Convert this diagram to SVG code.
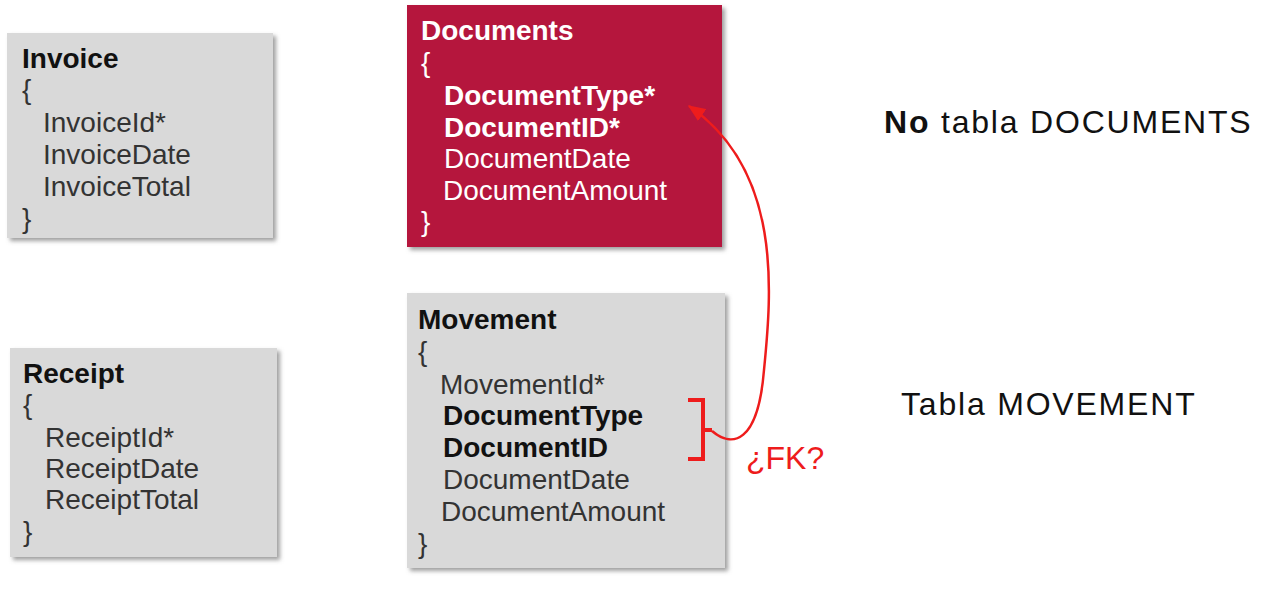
<svg xmlns="http://www.w3.org/2000/svg" width="1275" height="606" viewBox="0 0 1275 606">
<style>
  .box { fill: #d9d9d9; filter: url(#sh); }
  .red { fill: #b5193d; filter: url(#sh); }
  text { font-family: "Liberation Sans", Arial, sans-serif; font-size: 28px; }
  .t { font-weight: bold; fill: #111; }
  .f { fill: #333; }
  .b { font-weight: bold; fill: #111; }
  .w { fill: #ffffff; }
  .wb { fill: #ffffff; font-weight: bold; }
  .big { font-size: 32px; fill: #111; letter-spacing: 1.8px; }
  .fk { font-size: 32px; fill: #ee1c1c; }
  .conn { fill: none; stroke: #ee1c1c; stroke-width: 2.5; }
  .brk { fill: none; stroke: #ee1c1c; stroke-width: 4; stroke-linejoin: miter; }
</style>
<defs>
  <filter id="sh" x="-5%" y="-5%" width="115%" height="115%">
    <feDropShadow dx="3" dy="3" stdDeviation="2" flood-color="#777" flood-opacity="0.7"/>
  </filter>
  <marker id="ah" viewBox="0 0 12 10" refX="11" refY="5" markerWidth="7" markerHeight="6" orient="auto" markerUnits="strokeWidth">
    <path d="M0,0 L12,5 L0,10 Z" fill="#ee1c1c"/>
  </marker>
</defs>
<rect width="1275" height="606" fill="#ffffff"/>

<g id="invoice">
  <rect class="box" x="7" y="33" width="266" height="205"/>
  <text class="t" x="22" y="68">Invoice</text>
  <text class="f" x="22" y="99">{</text>
  <text class="f" x="43" y="132">InvoiceId*</text>
  <text class="f" x="43" y="164">InvoiceDate</text>
  <text class="f" x="43" y="196">InvoiceTotal</text>
  <text class="f" x="22" y="228">}</text>
</g>

<g id="receipt">
  <rect class="box" x="10" y="348" width="267" height="209"/>
  <text class="t" x="23" y="383">Receipt</text>
  <text class="f" x="23" y="414">{</text>
  <text class="f" x="45" y="447">ReceiptId*</text>
  <text class="f" x="45" y="478">ReceiptDate</text>
  <text class="f" x="45" y="509">ReceiptTotal</text>
  <text class="f" x="23" y="541">}</text>
</g>

<g id="documents">
  <rect class="red" x="407" y="5" width="315" height="242"/>
  <text class="wb" x="421" y="40">Documents</text>
  <text class="w" x="421" y="72">{</text>
  <text class="wb" x="444" y="105">DocumentType*</text>
  <text class="wb" x="444" y="137">DocumentID*</text>
  <text class="w" x="444" y="168">DocumentDate</text>
  <text class="w" x="443" y="200">DocumentAmount</text>
  <text class="w" x="421" y="231">}</text>
</g>

<g id="movement">
  <rect class="box" x="407" y="293" width="318" height="275"/>
  <text class="t" x="418" y="329">Movement</text>
  <text class="f" x="418" y="361">{</text>
  <text class="f" x="440" y="394">MovementId*</text>
  <text class="b" x="443" y="425">DocumentType</text>
  <text class="b" x="443" y="457">DocumentID</text>
  <text class="f" x="443" y="489">DocumentDate</text>
  <text class="f" x="441" y="521">DocumentAmount</text>
  <text class="f" x="418" y="553">}</text>
</g>

<g id="labels">
  <text class="big" x="884" y="133"><tspan font-weight="bold">No</tspan> tabla DOCUMENTS</text>
  <text class="big" x="901" y="415">Tabla MOVEMENT</text>
  <text class="fk" x="746" y="469">¿FK?</text>
</g>

<g id="connectors">
  <path class="brk" d="M688,400 H703 V459 H688 M703,430 H712"/>
  <path class="conn" marker-end="url(#ah)" d="M712,431 C732,448 758,444 764,370 C772,290 782,170 689,106"/>
</g>
</svg>
